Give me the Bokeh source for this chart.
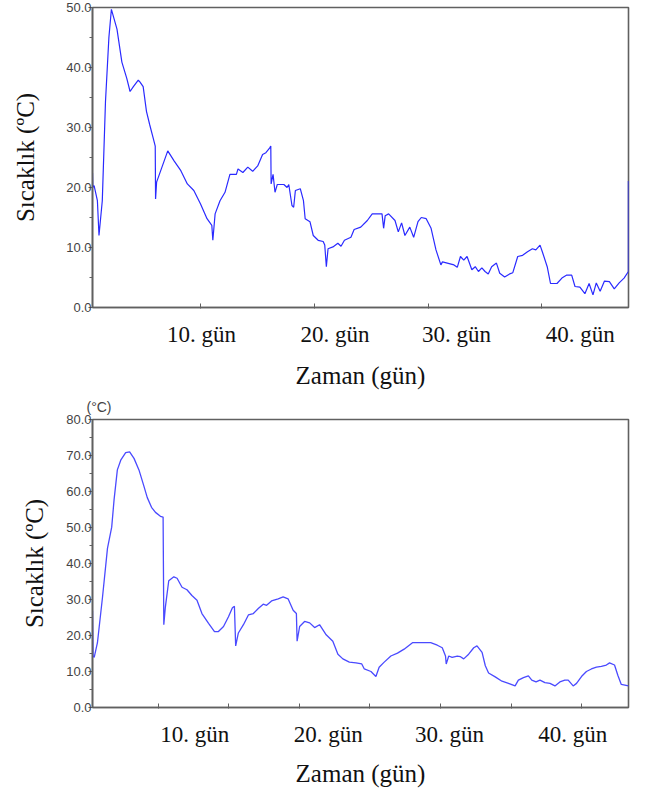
from bokeh.plotting import figure
from bokeh.models import (Range1d, FixedTicker, LinearAxis, NumeralTickFormatter, Title,
                          CustomLabelingPolicy)
from bokeh.layouts import column
from bokeh.embed import file_html
from bokeh.resources import INLINE

# ---------------- data (top chart) ----------------
top_days = [0.52, 0.55, 0.66, 0.95, 1.09, 1.38, 1.66, 1.96, 2.18, 2.67, 3.10, 3.53, 3.82, 4.11,
            4.54, 4.68, 4.97, 5.26, 5.54, 5.84, 6.03, 6.06, 6.15, 7.13, 7.70, 8.28, 8.85, 9.42,
            10.0, 10.58, 11.0, 11.09, 11.29, 11.72, 12.16, 12.59, 13.16, 13.30, 13.73, 14.16,
            14.59, 15.03, 15.46, 15.75, 16.09, 16.18, 16.21, 16.38, 16.55, 16.75, 17.33, 17.61,
            17.76, 18.04, 18.19, 18.34, 18.77, 19.05, 19.20, 19.62, 19.91, 20.34, 20.78, 20.92,
            21.06, 21.21, 21.64, 22.07, 22.35, 22.65, 23.22, 23.50, 24.08, 24.66, 25.09, 25.95,
            26.09, 26.23, 26.53, 27.09, 27.38, 27.67, 27.96, 28.39, 28.73, 29.11, 29.40, 29.83,
            30.26, 30.69, 31.12, 31.26, 32.27, 32.56, 32.84, 33.13, 33.42, 33.84, 34.14, 34.42,
            34.72, 35.00, 35.28, 35.58, 36.00, 36.29, 36.72, 37.16, 37.44, 37.87, 38.30, 38.73,
            39.16, 39.46, 39.83, 40.03, 40.46, 40.75, 41.32, 41.75, 42.18, 42.61, 42.90, 43.33,
            43.77, 44.14, 44.48, 44.77, 45.11, 45.49, 45.92, 46.35, 46.78, 47.21, 47.59, 47.59]
top_temp = [22.4, 20.0, 20.3, 17.8, 12.0, 17.8, 34.3, 45.0, 49.7, 46.4, 40.9, 38.2, 36.0, 36.8,
            37.9, 37.6, 36.8, 32.7, 30.5, 28.3, 26.9, 18.1, 20.9, 26.1, 24.4, 22.8, 20.6, 19.5,
            17.3, 14.8, 13.7, 11.2, 15.6, 17.8, 19.2, 22.2, 22.2, 23.1, 22.5, 23.4,
            22.7, 23.6, 25.5, 25.8, 26.6, 26.9, 20.6, 22.2, 19.2, 20.5, 20.5, 20.0,
            20.5, 17.0, 16.7, 19.5, 19.8, 17.8, 14.8, 14.3, 12.0, 11.2, 11.0, 10.4,
            6.8, 9.8, 10.1, 10.7, 10.2, 11.2, 11.7, 13.0, 13.4, 14.5, 15.6, 15.6,
            13.2, 15.3, 15.6, 14.5, 12.6, 14.1, 12.0, 13.4, 11.7, 14.3, 15.0, 14.8,
            13.2, 9.6, 7.1, 7.6, 7.1, 6.7, 8.5, 7.9, 8.5, 6.3, 6.8, 6.0,
            6.6, 6.0, 5.6, 6.8, 7.4, 5.7, 5.1, 5.6, 5.8, 8.5, 8.7, 9.3,
            9.8, 9.6, 10.4, 9.3, 6.8, 4.0, 4.0, 4.9, 5.4, 5.4, 3.5, 3.4,
            2.3, 4.0, 2.1, 4.1, 2.7, 4.4, 4.3, 3.1, 4.1, 4.9, 6.0, 21.1]
top_y_ticks = [0, 10, 20, 30, 40, 50]
top_y_minor = [5, 15, 25, 35, 45]
top_x_ticks = [10, 20, 30, 40]
top_label_days = [10.09, 21.81, 32.5, 43.36]

# ---------------- data (bottom chart) ----------------
bottom_days = [0.35, 0.39, 0.47, 0.70, 1.06, 1.41, 1.71, 1.88, 2.11, 2.35, 2.70, 2.98, 3.29,
               3.64, 3.99, 4.23, 4.53, 4.81, 5.16, 5.35, 5.40, 5.51, 5.75, 6.11, 6.34, 6.69,
               7.04, 7.39, 7.75, 8.10, 8.57, 8.99, 9.27, 9.63, 9.98, 10.26, 10.40, 10.49, 10.68,
               11.04, 11.39, 11.74, 12.09, 12.44, 12.68, 13.03, 13.50, 13.85, 14.20, 14.56, 14.79,
               14.84, 15.02, 15.37, 15.73, 16.08, 16.43, 16.90, 17.37, 17.73, 18.08, 18.54, 19.01,
               19.42, 19.60, 20.07, 20.42, 20.65, 21.01, 21.48, 21.95, 22.42, 23.01, 24.30, 24.77,
               25.12, 25.35, 25.40, 25.58, 25.82, 26.18, 26.41, 26.64, 26.99, 27.35, 27.58, 27.94,
               28.17, 28.40, 28.87, 29.35, 29.81, 30.28, 30.51, 30.87, 31.22, 31.46, 31.76, 32.04,
               32.39, 32.75, 33.10, 33.45, 33.80, 34.04, 34.39, 34.63, 34.98, 35.33, 35.68, 36.04,
               36.39, 36.74, 36.97, 37.32, 37.56, 37.80, 38.31]
bottom_temp = [26.9, 14.3, 13.9, 18.0, 30.7, 44.2, 50.1, 57.8, 66.0, 68.7, 70.8, 71.0, 69.2,
               66.0, 61.5, 58.3, 55.6, 54.2, 53.1, 52.9, 23.0, 27.9, 35.2, 36.3, 35.9, 33.4,
               32.7, 31.1, 29.8, 26.1, 23.4, 21.1, 21.1, 22.5, 25.2, 27.7, 28.1, 17.1, 20.7,
               23.0, 25.7, 26.1, 27.5, 28.7, 28.4, 29.6, 30.2, 30.7, 30.2, 27.0, 26.1,
               18.4, 22.5, 23.9, 23.5, 22.2, 23.0, 20.2, 18.4, 14.8, 13.5, 12.6, 12.4,
               12.1, 10.7, 10.0, 8.6, 11.2, 12.6, 14.3, 15.1, 16.2, 18.0, 18.0, 17.3,
               16.6, 14.3, 12.1, 14.3, 13.9, 14.3, 14.1, 13.5, 14.8, 16.6, 17.1, 15.3,
               11.6, 9.6, 8.5, 7.3, 6.7, 6.0, 7.6, 8.3, 8.8, 7.6, 7.1, 7.6,
               6.9, 6.7, 6.0, 7.1, 7.6, 7.6, 6.0, 6.7, 8.6, 10.0, 10.7, 11.2,
               11.4, 11.8, 12.4, 11.8, 8.9, 6.4, 6.0]
bottom_y_ticks = [0, 10, 20, 30, 40, 50, 60, 70, 80]
bottom_y_minor = [5, 15, 25, 35, 45, 55, 65, 75]
bottom_x_ticks = [5, 10, 15, 20, 25, 30, 35]
bottom_label_days = [7.6, 17.04, 25.63, 34.37]

day_labels = ["10. gün", "20. gün", "30. gün", "40. gün"]
y_title = "Sıcaklık (ºC)"
x_title = "Zaman (gün)"
unit_note = "(°C)"

AXIS_COLOR = "#606060"
TICK_FONT = "Liberation Sans"
SERIF = "Liberation Serif"

HIDE_LABELS = CustomLabelingPolicy(code="""
const n = indices.size;
for (let i = 0; i < n; i++) { indices.unset(i); }
return indices;
""")


def build(days, temps, xr, yr, yt, ym, xt, label_days, line_color, line_width,
          width, height, borders, ylabel_standoff, lab_standoff, title_standoff):
    left, right, top, bottom = borders
    p = figure(width=width, height=height, output_backend="svg", toolbar_location=None,
               x_range=Range1d(*xr), y_range=Range1d(*yr),
               x_axis_location=None, y_axis_location=None,
               min_border_left=left, min_border_right=right,
               min_border_top=top, min_border_bottom=bottom)
    p.grid.visible = False
    p.outline_line_color = AXIS_COLOR
    p.outline_line_width = 1.6
    p.outline_line_alpha = 1.0
    p.background_fill_color = "white"
    p.border_fill_color = "white"

    ya = LinearAxis(ticker=FixedTicker(ticks=yt, minor_ticks=ym),
                    formatter=NumeralTickFormatter(format="0.0"))
    ya.axis_line_color = AXIS_COLOR
    ya.axis_line_width = 1.6
    ya.major_tick_line_color = AXIS_COLOR
    ya.minor_tick_line_color = AXIS_COLOR
    ya.major_tick_in = 0
    ya.major_tick_out = 4
    ya.minor_tick_in = 0
    ya.minor_tick_out = 3
    ya.major_label_standoff = -3
    ya.major_label_text_font = TICK_FONT
    ya.major_label_text_font_size = "13px"
    ya.major_label_text_color = "#444444"
    ya.axis_label = y_title
    ya.axis_label_text_font = SERIF
    ya.axis_label_text_font_style = "normal"
    ya.axis_label_text_font_size = "25px"
    ya.axis_label_text_color = "#111111"
    ya.axis_label_standoff = ylabel_standoff
    p.add_layout(ya, "left")

    # tick marks only (labels are placed by the second axis)
    xa = LinearAxis(ticker=FixedTicker(ticks=xt, minor_ticks=[]))
    xa.axis_line_color = AXIS_COLOR
    xa.axis_line_width = 1.6
    xa.major_tick_line_color = AXIS_COLOR
    xa.major_tick_in = 4
    xa.major_tick_out = 1
    xa.minor_tick_line_color = None
    xa.major_label_policy = HIDE_LABELS
    xa.major_label_text_font_size = "1px"
    xa.major_label_standoff = 0
    p.add_layout(xa, "below")

    xl = LinearAxis(ticker=FixedTicker(ticks=label_days, minor_ticks=[]))
    xl.major_label_overrides = {d: t for d, t in zip(label_days, day_labels)}
    xl.axis_line_color = None
    xl.major_tick_line_color = None
    xl.minor_tick_line_color = None
    xl.major_tick_in = 0
    xl.major_tick_out = 0
    xl.major_label_standoff = lab_standoff
    xl.major_label_text_font = SERIF
    xl.major_label_text_font_size = "23px"
    xl.major_label_text_color = "#111111"
    xl.axis_label = x_title
    xl.axis_label_text_font = SERIF
    xl.axis_label_text_font_style = "normal"
    xl.axis_label_text_font_size = "25px"
    xl.axis_label_text_color = "#111111"
    xl.axis_label_standoff = title_standoff
    p.add_layout(xl, "below")

    p.line(days, temps, line_color=line_color, line_width=line_width)
    return p


p1 = build(top_days, top_temp, (0.52, 47.6), (0, 50), top_y_ticks, top_y_minor, top_x_ticks,
           top_label_days, "#2a2aff", 1.2, 636, 391, (82, 8, 7, 80), 24, 9, 12)

p2 = build(bottom_days, bottom_temp, (0.35, 38.31), (0, 80), bottom_y_ticks, bottom_y_minor,
           bottom_x_ticks, bottom_label_days, "#4a4aff", 1.3, 636, 398, (92, 5, 24, 77), 15, 9, 10)
p2.add_layout(Title(text=unit_note, align="left", offset=-6, text_font=TICK_FONT,
                    text_font_size="14px", text_font_style="normal", text_color="#444444",
                    standoff=10), "above")

layout = column(p1, p2, spacing=0)
open("out.html", "w").write(file_html(layout, INLINE))
